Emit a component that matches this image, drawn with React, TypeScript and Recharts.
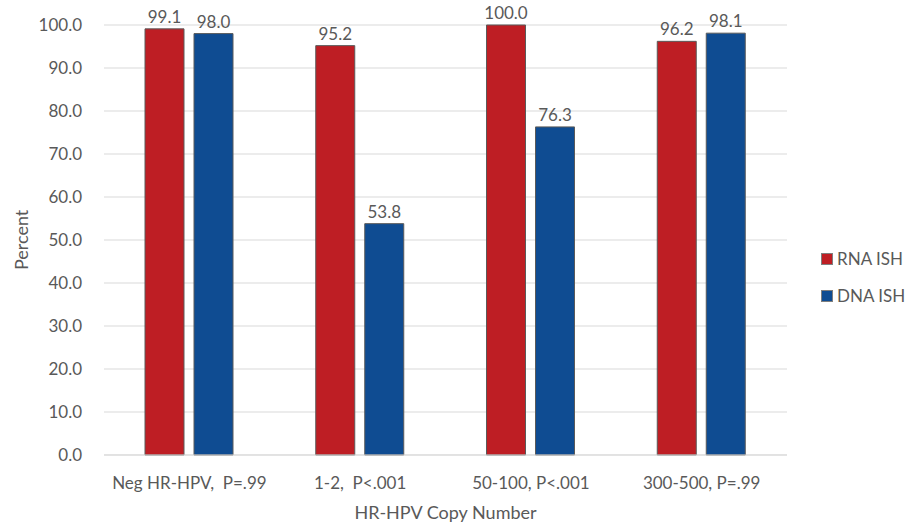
import React from "react";
import { BarChart, Bar, XAxis, YAxis, CartesianGrid, LabelList } from "recharts";

const categories = ["Neg HR-HPV,  P=.99", "1-2,  P<.001", "50-100, P<.001", "300-500, P=.99"];
const rnaIsh = [99.1, 95.2, 100.0, 96.2];
const dnaIsh = [98.0, 53.8, 76.3, 98.1];
const yTicks = [0, 10, 20, 30, 40, 50, 60, 70, 80, 90, 100];

const data = categories.map((c, i) => ({ name: c, rna: rnaIsh[i], dna: dnaIsh[i] }));

const FONT = "Lato, 'Open Sans', sans-serif";
const TXT = "#595959";
const RED = "#BE1E24";
const BLUE = "#0F4C92";

const fmt = (v: any) => Number(v).toFixed(1);

const legendItems = [{ c: RED, t: "RNA ISH" }, { c: BLUE, t: "DNA ISH" }];

const XTick = (props: any) => {
  const { x, y, payload } = props;
  return (
    <text x={x} y={y + 14} dy="0.71em" textAnchor="middle" fill={TXT} fontSize={17} fontFamily={FONT} xmlSpace="preserve" style={{ whiteSpace: "pre" }}>
      {payload.value}
    </text>
  );
};

export default function App() {
  return (
    <div style={{ position: "absolute", left: 0, top: 0, width: 908, height: 525, background: "#fff" }}>
      <BarChart width={908} height={525} data={data} margin={{ top: 25, right: 121, bottom: 40, left: 0 }} barSize={39} barGap={10}>
        <CartesianGrid vertical={false} stroke="#d9d9d9" />
        <XAxis
          dataKey="name"
          height={30}
          axisLine={{ stroke: "#d9d9d9" }}
          tickLine={false}
          tick={<XTick />}
          interval={0}
          label={{ value: "HR-HPV Copy Number", position: "insideBottom", offset: 0, fill: TXT, fontSize: 18, fontFamily: FONT, dy: 34 }}
        />
        <YAxis
          width={104}
          domain={[0, 100]}
          ticks={yTicks}
          tickFormatter={fmt}
          axisLine={false}
          tickLine={false}
          tick={{ fill: TXT, fontSize: 17, fontFamily: FONT }}
          tickMargin={16}
          label={{ value: "Percent", angle: -90, position: "insideLeft", offset: 22, fill: TXT, fontSize: 18, fontFamily: FONT, dy: 30 }}
        />
        <Bar dataKey="rna" name="RNA ISH" fill={RED} stroke="#5a5a5a" strokeWidth={1} isAnimationActive={false}>
          <LabelList dataKey="rna" position="top" offset={6} formatter={fmt} fill={TXT} fontSize={17} fontFamily={FONT} />
        </Bar>
        <Bar dataKey="dna" name="DNA ISH" fill={BLUE} stroke="#5a5a5a" strokeWidth={1} isAnimationActive={false}>
          <LabelList dataKey="dna" position="top" offset={6} formatter={fmt} fill={TXT} fontSize={17} fontFamily={FONT} />
        </Bar>
      </BarChart>
      <div style={{ position: "absolute", left: 821, top: 240, fontFamily: FONT, fontSize: 17, color: TXT }}>
        {legendItems.map((e, i) => (
          <div key={i} style={{ display: "flex", alignItems: "center", height: 37 }}>
            <span style={{ width: 10, height: 10, background: e.c, border: "1px solid #7f7f7f", marginRight: 4, display: "inline-block" }} />
            <span>{e.t}</span>
          </div>
        ))}
      </div>
    </div>
  );
}
